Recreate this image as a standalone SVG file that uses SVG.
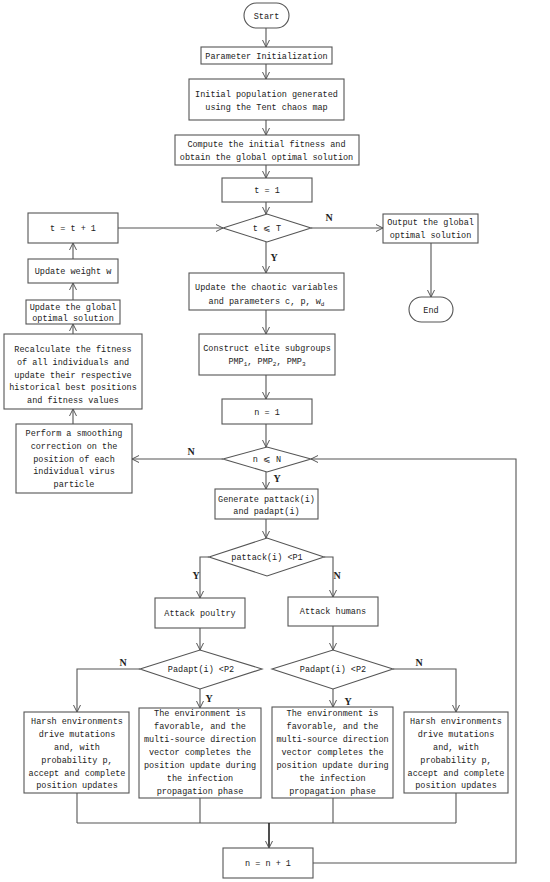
<svg xmlns="http://www.w3.org/2000/svg" width="550" height="882" viewBox="0 0 550 882">
<defs>
<marker id="ah" markerWidth="8" markerHeight="8" refX="7" refY="4" orient="auto" markerUnits="userSpaceOnUse">
<path d="M0,0.5 L7,4 L0,7.5" fill="none" stroke="#555" stroke-width="1"/>
</marker>
<style>
rect,path.s{fill:#fff;stroke:#555;stroke-width:1.1}
.c path,.c line,.c polyline{fill:none;stroke:#555;stroke-width:1.1}
text{font-family:"Liberation Mono","DejaVu Sans Mono",monospace;font-size:8.5px;fill:#222;text-anchor:middle}
.l{font-family:"Liberation Serif",serif;font-size:10px;font-weight:bold}
.sub{font-size:6px}
</style>
</defs>
<rect x="0" y="0" width="550" height="882" style="fill:#fff;stroke:none"/>

<g class="c" id="connectors">
<line x1="266" y1="28" x2="266" y2="47" marker-end="url(#ah)"/>
<line x1="266" y1="64" x2="266" y2="79" marker-end="url(#ah)"/>
<line x1="266" y1="120" x2="266" y2="135" marker-end="url(#ah)"/>
<line x1="266" y1="165" x2="266" y2="178" marker-end="url(#ah)"/>
<line x1="266" y1="202" x2="266" y2="214" marker-end="url(#ah)"/>
<line x1="118" y1="228" x2="223" y2="228" marker-end="url(#ah)"/>
<line x1="311" y1="228" x2="383" y2="228" marker-end="url(#ah)"/>
<line x1="431" y1="243" x2="431" y2="297" marker-end="url(#ah)"/>
<line x1="266" y1="242" x2="266" y2="273" marker-end="url(#ah)"/>
<line x1="266" y1="310" x2="266" y2="334" marker-end="url(#ah)"/>
<line x1="266" y1="375" x2="266" y2="399" marker-end="url(#ah)"/>
<line x1="266" y1="424" x2="266" y2="447" marker-end="url(#ah)"/>
<line x1="223" y1="459" x2="132" y2="459" marker-end="url(#ah)"/>
<line x1="73" y1="424" x2="73" y2="409" marker-end="url(#ah)"/>
<line x1="73" y1="334" x2="73" y2="324" marker-end="url(#ah)"/>
<line x1="73" y1="300" x2="73" y2="283" marker-end="url(#ah)"/>
<line x1="73" y1="259" x2="73" y2="243" marker-end="url(#ah)"/>
<line x1="266" y1="472" x2="266" y2="489" marker-end="url(#ah)"/>
<line x1="266" y1="519" x2="266" y2="538" marker-end="url(#ah)"/>
<polyline points="209,557 200,557 200,598" marker-end="url(#ah)"/>
<polyline points="324,557 333,557 333,597" marker-end="url(#ah)"/>
<line x1="200" y1="628" x2="200" y2="650" marker-end="url(#ah)"/>
<line x1="333" y1="626" x2="333" y2="650" marker-end="url(#ah)"/>
<polyline points="140,669 77,669 77,712" marker-end="url(#ah)"/>
<line x1="200" y1="689" x2="200" y2="708" marker-end="url(#ah)"/>
<line x1="333" y1="689" x2="333" y2="707" marker-end="url(#ah)"/>
<polyline points="393,669 456,669 456,712" marker-end="url(#ah)"/>
<line x1="77" y1="793" x2="77" y2="823"/>
<line x1="200" y1="798" x2="200" y2="823"/>
<line x1="333" y1="798" x2="333" y2="823"/>
<line x1="456" y1="793" x2="456" y2="823"/>
<line x1="77" y1="823" x2="456" y2="823"/>
<line x1="269" y1="823" x2="269" y2="848" marker-end="url(#ah)" style="stroke:#222;stroke-width:1.6"/>
<polyline points="313,863 516,863 516,459 311,459" marker-end="url(#ah)"/>
</g>

<g id="labels">
<text class="l" x="329" y="221">N</text>
<text class="l" x="274" y="261">Y</text>
<text class="l" x="191" y="455">N</text>
<text class="l" x="277" y="482">Y</text>
<text class="l" x="196" y="579">Y</text>
<text class="l" x="337" y="579">N</text>
<text class="l" x="123" y="666">N</text>
<text class="l" x="209" y="702">Y</text>
<text class="l" x="419" y="666">N</text>
<text class="l" x="348" y="705">Y</text>
</g>

<g id="start"><rect x="244" y="3" width="45" height="25" rx="12.5"/><text x="266.5" y="18.5">Start</text></g>
<g id="param"><rect x="201" y="47" width="131" height="17"/><text x="266.5" y="58.5">Parameter Initialization</text></g>
<g id="initpop"><rect x="189" y="79" width="155" height="41"/><text x="266.5" y="97">Initial population generated</text><text x="266.5" y="110">using the Tent chaos map</text></g>
<g id="compute"><rect x="175" y="135" width="184" height="30"/><text x="266.5" y="147">Compute the initial fitness and</text><text x="266.5" y="160">obtain the global optimal solution</text></g>
<g id="t1"><rect x="222" y="178" width="90" height="24"/><text x="267" y="193">t = 1</text></g>
<g id="tcond"><path class="s" d="M223,228 L267,214 L311,228 L267,242 Z"/><text x="267" y="231">t ⩽ T</text></g>
<g id="tinc"><rect x="28" y="213" width="90" height="30"/><text x="73" y="231">t = t + 1</text></g>
<g id="output"><rect x="383" y="214" width="95" height="29"/><text x="430.5" y="225">Output the global</text><text x="430.5" y="238">optimal solution</text></g>
<g id="end"><rect x="409" y="297" width="44" height="25" rx="12.5"/><text x="431" y="312.5">End</text></g>
<g id="weight"><rect x="28" y="259" width="90" height="24"/><text x="73" y="274">Update weight w</text></g>
<g id="global"><rect x="26" y="300" width="94" height="24"/><text x="73" y="309.5">Update the global</text><text x="73" y="321">optimal solution</text></g>
<g id="chaotic"><rect x="189" y="273" width="155" height="37"/><text x="266.5" y="290">Update the chaotic variables</text><text x="266.5" y="304">and parameters c, p, w<tspan class="sub" dy="1.5">d</tspan></text></g>
<g id="construct"><rect x="199" y="334" width="136" height="41"/><text x="267" y="351">Construct elite subgroups</text><text x="267" y="364">PMP<tspan class="sub" dy="1.5">1</tspan><tspan dy="-1.5">, PMP</tspan><tspan class="sub" dy="1.5">2</tspan><tspan dy="-1.5">, PMP</tspan><tspan class="sub" dy="1.5">3</tspan></text></g>
<g id="recalc"><rect x="4" y="334" width="138" height="75"/><text x="73" y="352">Recalculate the fitness</text><text x="73" y="365">of all individuals and</text><text x="73" y="378">update their respective</text><text x="73" y="390">historical best positions</text><text x="73" y="403">and fitness values</text></g>
<g id="n1"><rect x="222" y="399" width="90" height="25"/><text x="267" y="414.5">n = 1</text></g>
<g id="ncond"><path class="s" d="M223,459 L267,447 L311,459 L267,472 Z"/><text x="267" y="462">n ⩽ N</text></g>
<g id="perform"><rect x="16" y="424" width="116" height="69"/><text x="74" y="436">Perform a smoothing</text><text x="74" y="449">correction on the</text><text x="74" y="462">position of each</text><text x="74" y="474">individual virus</text><text x="74" y="487">particle</text></g>
<g id="generate"><rect x="215" y="489" width="103" height="30"/><text x="266.5" y="502">Generate pattack(i)</text><text x="266.5" y="514">and padapt(i)</text></g>
<g id="pattack"><path class="s" d="M209,557 L267,538 L324,557 L267,576 Z"/><text x="267" y="560">pattack(i) &lt;P1</text></g>
<g id="poultry"><rect x="155" y="598" width="90" height="30"/><text x="200" y="616">Attack poultry</text></g>
<g id="humans"><rect x="288" y="597" width="90" height="29"/><text x="333" y="614">Attack humans</text></g>
<g id="padapt1"><path class="s" d="M140,669 L200,650 L262,669 L200,689 Z"/><text x="201" y="672">Padapt(i) &lt;P2</text></g>
<g id="padapt2"><path class="s" d="M272,669 L333,650 L393,669 L333,689 Z"/><text x="333" y="672">Padapt(i) &lt;P2</text></g>
<g id="harsh1"><rect x="24" y="712" width="105" height="81"/><text x="77" y="724">Harsh environments</text><text x="77" y="737">drive mutations</text><text x="77" y="750">and, with</text><text x="77" y="763">probability p,</text><text x="77" y="776">accept and complete</text><text x="77" y="788">position updates</text></g>
<g id="fav1"><rect x="139" y="708" width="122" height="90"/><text x="200" y="716">The environment is</text><text x="200" y="729">favorable, and the</text><text x="200" y="742">multi-source direction</text><text x="200" y="755">vector completes the</text><text x="200" y="768">position update during</text><text x="200" y="781">the infection</text><text x="200" y="794">propagation phase</text></g>
<g id="fav2"><rect x="272" y="707" width="121" height="91"/><text x="332.5" y="716">The environment is</text><text x="332.5" y="729">favorable, and the</text><text x="332.5" y="742">multi-source direction</text><text x="332.5" y="755">vector completes the</text><text x="332.5" y="768">position update during</text><text x="332.5" y="781">the infection</text><text x="332.5" y="794">propagation phase</text></g>
<g id="harsh2"><rect x="404" y="712" width="104" height="81"/><text x="456" y="724">Harsh environments</text><text x="456" y="737">drive mutations</text><text x="456" y="750">and, with</text><text x="456" y="763">probability p,</text><text x="456" y="776">accept and complete</text><text x="456" y="788">position updates</text></g>
<g id="ninc"><rect x="223" y="848" width="90" height="30"/><text x="268" y="866">n = n + 1</text></g>
</svg>
